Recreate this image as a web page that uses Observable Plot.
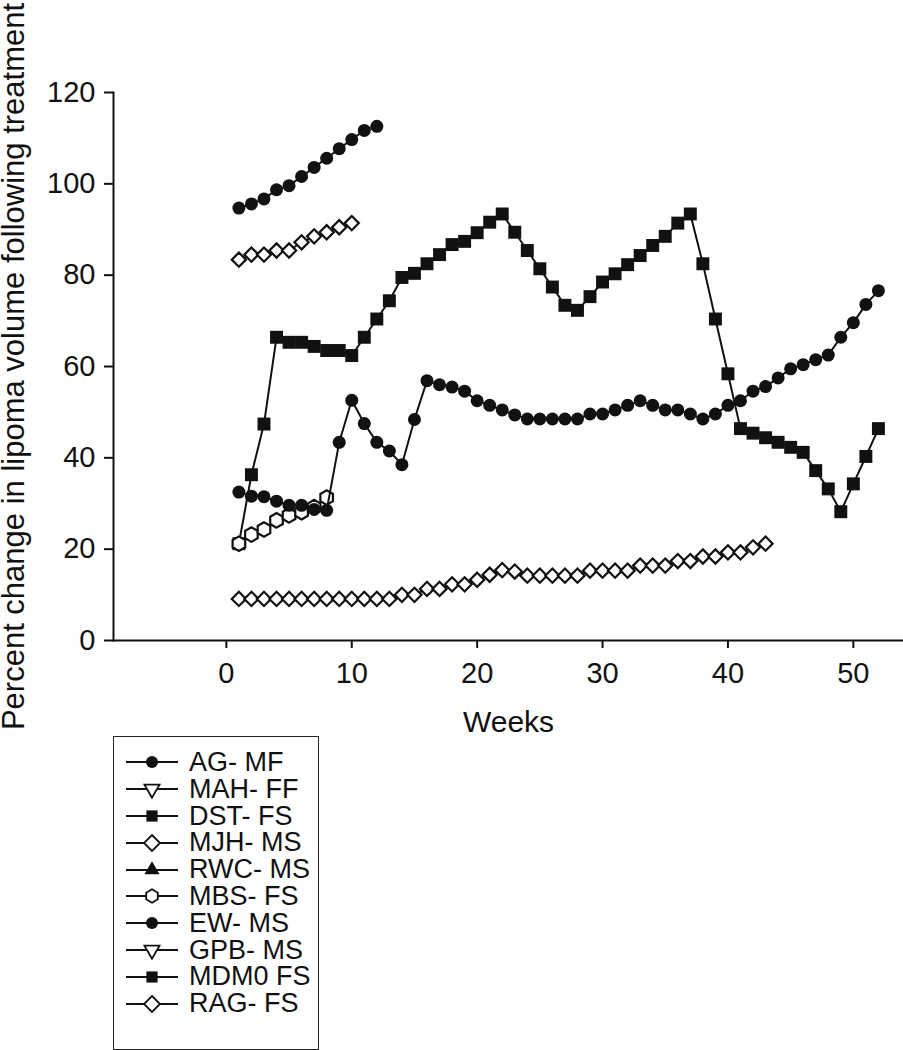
<!DOCTYPE html>
<html><head><meta charset="utf-8">
<script src="https://cdn.jsdelivr.net/npm/d3@7"></script>
<script src="https://cdn.jsdelivr.net/npm/@observablehq/plot@0.6"></script>
<style>
html,body{margin:0;padding:0;background:#fff;}
#wrap{position:relative;width:903px;height:1050px;overflow:hidden;font-family:"Liberation Sans",Arial,Helvetica,sans-serif;background:#fff;}
#chart svg{display:block;}
#legend{position:absolute;left:113px;top:736px;width:206px;height:314px;border:1.5px solid #222;box-sizing:border-box;padding-top:12px;background:#fff;}
.row{height:26.8px;display:flex;align-items:center;font-size:27px;line-height:26.8px;color:#111;white-space:nowrap;}
.row svg{margin-left:12px;margin-right:11px;flex:none;}
</style></head><body><div id="wrap"><div id="chart"></div><div id="legend"></div></div>
<script>
// ---- data (week = position in list, starting at week 1) ----
const seriesLabels = ["AG- MF","MAH- FF","DST- FS","MJH- MS","RWC- MS","MBS- FS","EW- MS","GPB- MS","MDM0 FS","RAG- FS"];
const seriesSymbols = ["circle","triangle-down","square","diamond","triangle","hexagon","circle","triangle-down","square","diamond"];
const seriesFilled = [true,false,true,false,true,false,true,false,true,false];

const agMF = [94.7,95.6,96.7,98.7,99.6,101.6,103.6,105.6,107.7,109.7,111.7,112.6];
const mahFF = [];
const dstFS = [21.2,36.3,47.4,66.4,65.3,65.3,64.4,63.5,63.5,62.4,
               66.4,70.4,74.4,79.5,80.4,82.5,84.5,86.7,87.4,89.3,
               91.6,93.4,89.4,85.4,81.4,77.4,73.4,72.3,75.3,78.5,
               80.3,82.3,84.3,86.5,88.5,91.4,93.4,82.5,70.4,58.4,
               46.4,45.4,44.4,43.4,42.3,41.2,37.2,33.2,28.2,34.3,40.3,46.4];
const mjhMS = [83.4,84.5,84.5,85.4,85.4,87.2,88.5,89.4,90.5,91.4];
const rwcMS = [];
const mbsFS = [21.2,23.2,24.3,26.3,27.4,28.1,29.2,31.3];
const ewMS = [32.5,31.6,31.5,30.5,29.6,29.6,28.7,28.5,43.4,52.6,
              47.5,43.4,41.5,38.5,48.4,56.9,56.0,55.5,54.6,52.5,
              51.5,50.5,49.4,48.5,48.5,48.5,48.5,48.5,49.6,49.6,
              50.5,51.5,52.5,51.5,50.5,50.5,49.6,48.5,49.6,51.5,
              52.5,54.6,55.6,57.5,59.5,60.4,61.5,62.5,66.4,69.6,73.6,76.6];
const gpbMS = [];
const mdm0FS = [];
const ragFS = [9.1,9.1,9.1,9.1,9.1,9.1,9.1,9.1,9.1,9.1,
               9.1,9.1,9.1,10.0,10.0,11.3,11.3,12.3,12.3,13.3,
               14.4,15.4,15.1,14.2,14.2,14.2,14.2,14.2,15.3,15.3,
               15.3,15.3,16.4,16.4,16.4,17.4,17.4,18.4,18.4,19.3,
               19.3,20.4,21.2];

const xTicks = [0,10,20,30,40,50];
const yTicks = [0,20,40,60,80,100,120];
const xLabel = "Weeks";
const yLabel = "Percent change in lipoma volume following treatment";

// ---- build ----
const seriesValues = [agMF,mahFF,dstFS,mjhMS,rwcMS,mbsFS,ewMS,gpbMS,mdm0FS,ragFS];
const ink = "#111";
const plotSymbol = {circle:"circle", square:"square", diamond:"diamond2", hexagon:"hexagon", triangle:"triangle", "triangle-down":"triangle"};
const symbolR = {circle:6.5, square:7.3, diamond:6.4, hexagon:6.3, triangle:6, "triangle-down":6};

const seriesMarks = [];
seriesValues.forEach((vals, s) => {
  if (!vals.length) return;
  const rows = vals.map((v, i) => ({series: seriesLabels[s], week: i + 1, value: v}));
  const sym = seriesSymbols[s];
  seriesMarks.push(Plot.line(rows, {x: "week", y: "value", stroke: ink, strokeWidth: 2}));
  seriesMarks.push(Plot.dot(rows, {
    x: "week", y: "value", symbol: plotSymbol[sym], r: symbolR[sym],
    fill: seriesFilled[s] ? ink : "#fff",
    stroke: seriesFilled[s] ? "none" : ink,
    strokeWidth: 2.2
  }));
});

const chart = Plot.plot({
  width: 903, height: 760,
  marginLeft: 113, marginRight: 0, marginTop: 92, marginBottom: 120,
  style: {fontFamily: "'Liberation Sans', Arial, Helvetica, sans-serif", color: ink, background: "#fff", overflow: "visible"},
  x: {domain: [-9, 54]},
  y: {domain: [0, 120]},
  marks: [
    Plot.axisX({ticks: xTicks, tickSize: 8, tickPadding: 14, strokeWidth: 2, fontSize: 29, label: null}),
    Plot.axisX({ticks: [], tickSize: 0, label: xLabel, labelAnchor: "center", labelOffset: 91, labelArrow: "none", fontSize: 30}),
    Plot.axisY({ticks: yTicks, tickSize: 9, tickPadding: 9, strokeWidth: 2, fontSize: 29, label: null}),
    Plot.axisY({ticks: [], tickSize: 0, label: yLabel, labelAnchor: "center", labelOffset: 112, labelArrow: "none", fontSize: 31}),
    Plot.frame({anchor: "left", stroke: ink, strokeWidth: 2}),
    Plot.frame({anchor: "bottom", stroke: ink, strokeWidth: 2}),
    ...seriesMarks
  ]
});
document.getElementById("chart").appendChild(chart);

// ---- legend ----
const legend = d3.select("#legend");
const d3Sym = {circle: d3.symbolCircle, square: d3.symbolSquare, diamond: d3.symbolDiamond2, hexagon: null, triangle: d3.symbolTriangle, "triangle-down": d3.symbolTriangle};
function hexPath(r) {
  const ry = r * 2 / Math.sqrt(3), hy = ry / 2;
  return `M0,${ry}L${r},${hy}L${r},${-hy}L0,${-ry}L${-r},${-hy}L${-r},${hy}Z`;
}
const legendSize = {circle: 6, square: 6.3, diamond: 7.2, hexagon: 5.8, triangle: 5.6, "triangle-down": 5.6};
seriesLabels.forEach((lab, s) => {
  const row = legend.append("div").attr("class", "row");
  const svg = row.append("svg").attr("width", 52).attr("height", 22);
  svg.append("line").attr("x1", 0).attr("x2", 52).attr("y1", 11).attr("y2", 11).attr("stroke", ink).attr("stroke-width", 2);
  const sym = seriesSymbols[s];
  const r = legendSize[sym];
  const d = sym === "hexagon" ? hexPath(r) : d3.symbol(d3Sym[sym], Math.PI * r * r)();
  const rot = sym === "triangle-down" ? " rotate(180)" : "";
  svg.append("path").attr("d", d).attr("transform", `translate(26,11)${rot}`)
    .attr("fill", seriesFilled[s] ? ink : "#fff")
    .attr("stroke", seriesFilled[s] ? "none" : ink).attr("stroke-width", 1.8);
  row.append("span").text(lab);
});
</script></body></html>
